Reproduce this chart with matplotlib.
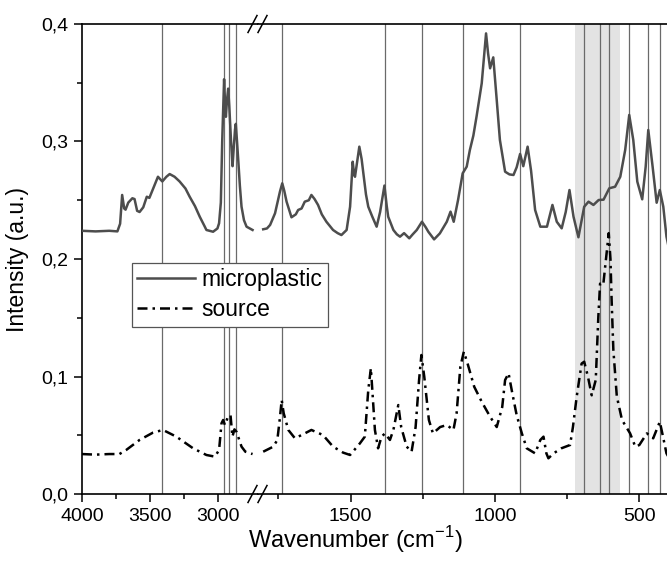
import numpy as np
import matplotlib
matplotlib.use("Agg")
import matplotlib.pyplot as plt
from matplotlib.lines import Line2D
from matplotlib.ticker import FuncFormatter, MultipleLocator, FixedLocator

plt.rcParams['font.family'] = ['Liberation Sans', 'DejaVu Sans']
plt.rcParams['mathtext.fontset'] = 'custom'
plt.rcParams['mathtext.rm'] = 'Liberation Sans'

# ---------------- data ----------------
mp_hi_wn = [4000, 3900, 3800, 3740, 3720, 3705, 3690, 3680, 3660, 3630, 3614, 3595, 3577, 3550,
            3524, 3505, 3470, 3442, 3410, 3380, 3356, 3320, 3283, 3240, 3209, 3170, 3135, 3100,
            3086, 3037, 3005, 2993, 2980, 2970, 2963, 2956, 2950, 2943, 2935, 2926, 2918, 2905,
            2894, 2885, 2876, 2870, 2860, 2852, 2840, 2828, 2810, 2791, 2747]
mp_hi_int = [0.224, 0.2235, 0.224, 0.2235, 0.230, 0.2545, 0.243, 0.242, 0.248, 0.2517, 0.251, 0.241,
             0.240, 0.244, 0.253, 0.252, 0.262, 0.270, 0.266, 0.270, 0.2723, 0.270, 0.266, 0.260,
             0.253, 0.245, 0.236, 0.228, 0.2247, 0.2232, 0.226, 0.2304, 0.248, 0.300, 0.327, 0.353,
             0.335, 0.321, 0.335, 0.345, 0.330, 0.300, 0.279, 0.295, 0.310, 0.315, 0.298, 0.284,
             0.262, 0.2445, 0.233, 0.2275, 0.2247]

mp_lo_wn = [1803, 1790, 1779, 1762, 1745, 1737, 1730, 1722, 1705, 1690, 1682, 1670, 1659, 1645,
            1636, 1625, 1613, 1600, 1584, 1561, 1545, 1532, 1514, 1502, 1493, 1488, 1485, 1470,
            1462, 1456, 1447, 1439, 1425, 1410, 1398, 1383, 1375, 1370, 1352, 1340, 1329, 1315,
            1297, 1285, 1271, 1253, 1240, 1231, 1211, 1191, 1167, 1154, 1143, 1128, 1112, 1098,
            1087, 1075, 1064, 1046, 1031, 1024, 1017, 1006, 994, 983, 965, 950, 936, 925, 913,
            902, 887, 875, 861, 843, 820, 801, 786, 769, 755, 742, 728, 711, 691, 676, 659, 641,
            624, 604, 584, 566, 549, 535, 521, 507, 490, 478, 469, 454, 440, 429, 417, 406, 400]
mp_lo_int = [0.2253, 0.226, 0.229, 0.2389, 0.2573, 0.2644, 0.258, 0.2488, 0.2355, 0.238, 0.2417,
             0.243, 0.2488, 0.250, 0.2545, 0.251, 0.246, 0.238, 0.2317, 0.2247, 0.222, 0.2204,
             0.2247, 0.2445, 0.2828, 0.272, 0.270, 0.2956, 0.285, 0.2729, 0.255, 0.2445, 0.236,
             0.2275, 0.240, 0.2625, 0.245, 0.236, 0.2247, 0.221, 0.219, 0.222, 0.2176, 0.221,
             0.2247, 0.2317, 0.227, 0.2232, 0.2167, 0.2218, 0.2317, 0.2403, 0.2317, 0.2502,
             0.2729, 0.2786, 0.2928, 0.305, 0.3211, 0.3495, 0.392, 0.375, 0.3623, 0.3716, 0.3353,
             0.3013, 0.2743, 0.272, 0.2715, 0.278, 0.2894, 0.279, 0.2956, 0.275, 0.2417, 0.2275,
             0.2275, 0.246, 0.2317, 0.2261, 0.240, 0.2587, 0.236, 0.2185, 0.2445, 0.2488, 0.246,
             0.2502, 0.2505, 0.2602, 0.2615, 0.270, 0.2928, 0.3226, 0.3013, 0.2658, 0.2508,
             0.2786, 0.3098, 0.2786, 0.2479, 0.2587, 0.2445, 0.219, 0.212]

src_hi_wn = [4000, 3900, 3800, 3725, 3676, 3577, 3479, 3405, 3307, 3184, 3086, 3024, 2993, 2975,
             2963, 2950, 2930, 2909, 2895, 2880, 2865, 2828, 2800, 2747]
src_hi_int = [0.034, 0.0335, 0.034, 0.034, 0.0374, 0.046, 0.0522, 0.0545, 0.0488, 0.0389, 0.0332,
              0.0318, 0.0374, 0.0602, 0.063, 0.0587, 0.065, 0.0672, 0.0488, 0.055, 0.053, 0.0403,
              0.036, 0.034]

src_lo_wn = [1803, 1768, 1754, 1745, 1739, 1732, 1716, 1693, 1670, 1636, 1596, 1561, 1526, 1502,
             1468, 1451, 1439, 1430, 1425, 1416, 1405, 1393, 1381, 1364, 1352, 1335, 1325, 1306,
             1289, 1275, 1263, 1255, 1245, 1229, 1215, 1190, 1167, 1144, 1133, 1120, 1108, 1095,
             1072, 1046, 1017, 994, 975, 965, 953, 940, 925, 907, 890, 861, 843, 832, 822, 815,
             797, 770, 740, 730, 717, 700, 691, 678, 665, 651, 642, 636, 625, 606, 600, 596, 590,
             578, 560, 532, 514, 500, 474, 452, 429, 418, 406, 400]
src_lo_int = [0.036, 0.0403, 0.046, 0.065, 0.080, 0.0687, 0.0545, 0.0474, 0.0502, 0.0545, 0.0502,
              0.0403, 0.0352, 0.0332, 0.0431, 0.0488, 0.0885, 0.107, 0.0885, 0.0545, 0.0389,
              0.0488, 0.0516, 0.046, 0.0545, 0.0757, 0.057, 0.0403, 0.036, 0.057, 0.097, 0.1183,
              0.0998, 0.063, 0.0516, 0.057, 0.0587, 0.0545, 0.0687, 0.1083, 0.1211, 0.111, 0.0913,
              0.0785, 0.0658, 0.057, 0.074, 0.097, 0.1027, 0.0857, 0.0672, 0.0516, 0.0389, 0.0346,
              0.046, 0.0488, 0.0346, 0.0304, 0.0346, 0.0389, 0.0417, 0.057, 0.0828, 0.111, 0.1126,
              0.0998, 0.084, 0.097, 0.151, 0.179, 0.178, 0.222, 0.20, 0.165, 0.1226, 0.083, 0.063,
              0.0516, 0.0403, 0.0417, 0.0516, 0.0474, 0.0615, 0.0488, 0.0346, 0.032]

marker_lines = [3410, 2958, 2919, 2870, 1737, 1381, 1253, 1112, 912, 691, 636, 606, 536, 470, 430]
shade_range = (722, 568)

xlim_hi = (4000, 2707)
xlim_lo = (1821, 400)
ylim = (0.0, 0.4)

# ---------------- figure ----------------
W, H = 667, 568
fig = plt.figure(figsize=(W / 100, H / 100), dpi=100)

def fx(px):
    return px / W

def fy(py):
    return 1 - py / H

ax_top_px, ax_bot_px = 24, 494
x_left_px, x_break_px, x_right_px = 82.0, 258.0, 668.2
bottom = fy(ax_bot_px)
height = (ax_bot_px - ax_top_px) / H
ax1 = fig.add_axes([fx(x_left_px), bottom, fx(x_break_px - x_left_px), height])
ax2 = fig.add_axes([fx(x_break_px), bottom, fx(x_right_px - x_break_px), height], sharey=ax1)

mp_color = '#4d4d4d'
vline_color = '#6a6a6a'
src_style = (0, (4.0, 2.0, 1.0, 2.0))
lw = 1.8

for ax in (ax1, ax2):
    ax.axvspan(shade_range[0], shade_range[1], color='#e3e3e3', lw=0, zorder=0)
    for v in marker_lines:
        ax.axvline(v, color=vline_color, lw=0.9, zorder=1)

l_mp, = ax1.plot(mp_hi_wn, mp_hi_int, color=mp_color, lw=lw, zorder=3)
ax2.plot(mp_lo_wn, mp_lo_int, color=mp_color, lw=lw, zorder=3)
l_src, = ax1.plot(src_hi_wn, src_hi_int, color='black', lw=lw, ls=src_style, zorder=3)
ax2.plot(src_lo_wn, src_lo_int, color='black', lw=lw, ls=src_style, zorder=3)

ax1.set_xlim(*xlim_hi)
ax2.set_xlim(*xlim_lo)
ax1.set_ylim(*ylim)

comma = FuncFormatter(lambda v, p: f"{v:.1f}".replace('.', ','))
ax1.yaxis.set_major_locator(MultipleLocator(0.1))
ax1.yaxis.set_minor_locator(MultipleLocator(0.05))
ax1.yaxis.set_major_formatter(comma)

ax1.xaxis.set_major_locator(FixedLocator([4000, 3500, 3000]))
ax1.xaxis.set_minor_locator(FixedLocator([3750, 3250]))
ax2.xaxis.set_major_locator(FixedLocator([1500, 1000, 500]))
ax2.xaxis.set_minor_locator(FixedLocator([1750, 1250, 750]))

for ax in (ax1, ax2):
    ax.tick_params(axis='both', which='major', direction='out', length=6, width=1.1,
                   labelsize=14, color='black', pad=4)
    ax.tick_params(axis='both', which='minor', direction='out', length=3.5, width=1.1,
                   color='black')
    for s in ax.spines.values():
        s.set_linewidth(1.2)
ax1.spines['right'].set_visible(False)
ax2.spines['left'].set_visible(False)
ax2.spines['right'].set_visible(False)
ax2.tick_params(axis='y', which='both', left=False, labelleft=False)

fig.text(fx(18), fy(259), 'Intensity (a.u.)', fontsize=16.5, rotation=90,
         ha='center', va='center')
fig.text(fx(355), fy(540), 'Wavenumber (cm$^{\\mathregular{-1}}$)', fontsize=17,
         ha='center', va='center')

# break marks
for ycen in (ax_top_px, ax_bot_px):
    for xc in (252.5, 262.5):
        fig.add_artist(Line2D([fx(xc - 4.5), fx(xc + 4.5)], [fy(ycen + 8.5), fy(ycen - 8.5)],
                              color='black', lw=1.1))

leg = fig.legend([l_mp, l_src], ['microplastic', 'source'], loc='upper left',
                 bbox_to_anchor=(fx(131.7), fy(262.7)), fontsize=16.5, frameon=True,
                 fancybox=False, edgecolor='#555555', framealpha=1, handlelength=2.5,
                 handletextpad=0.3, borderpad=0.25, labelspacing=0.28, borderaxespad=0)
leg.get_frame().set_linewidth(0.9)

fig.savefig('out.png', dpi=100)
